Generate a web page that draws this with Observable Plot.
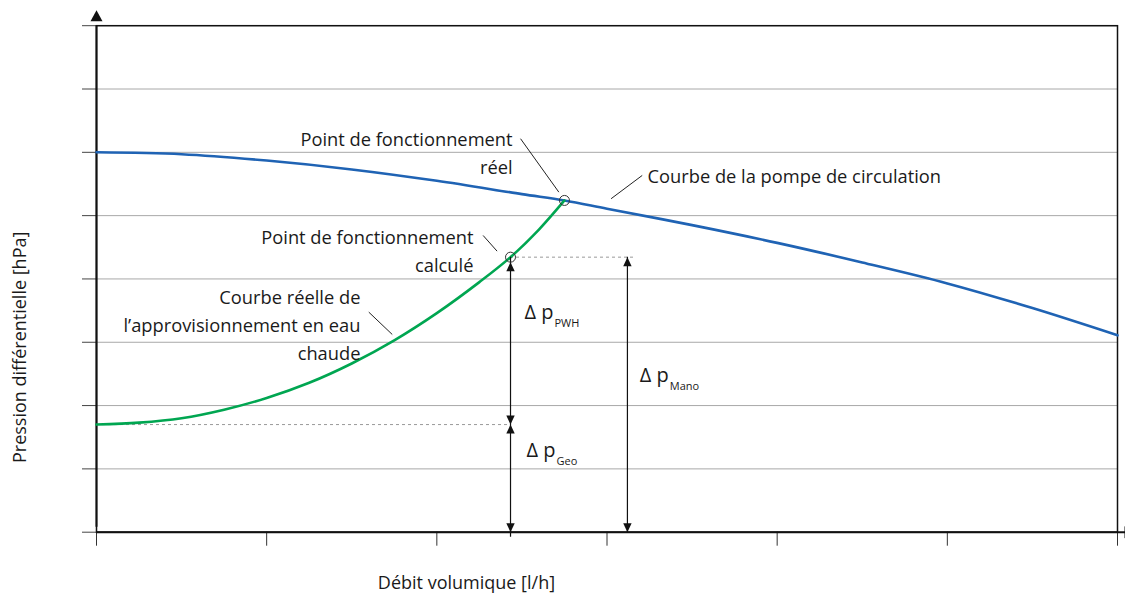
<!DOCTYPE html>
<html>
<head>
<meta charset="utf-8">
<script src="https://cdn.jsdelivr.net/npm/d3@7"></script>
<script src="https://cdn.jsdelivr.net/npm/@observablehq/plot@0.6"></script>
<style>
  html, body { margin: 0; padding: 0; background: #fff; }
</style>
</head>
<body>
<div id="chart"></div>
<script>
// Pump characteristic (flow, differential pressure)
const pumpFlow     = [0, 0.5, 1.0, 1.5, 2.0, 2.5, 2.75, 3.0, 3.5, 4.0, 4.5, 5.0, 5.5, 6.0];
const pumpPressure = [6.00, 5.97, 5.87, 5.73, 5.55, 5.34, 5.24, 5.11, 4.85, 4.57, 4.26, 3.93, 3.54, 3.11];

// Real hot-water supply curve
const pipeFlow     = [0, 0.25, 0.5, 0.75, 1.0, 1.25, 1.5, 1.75, 2.0, 2.25, 2.433, 2.6, 2.75];
const pipePressure = [1.70, 1.73, 1.80, 1.935, 2.12, 2.36, 2.665, 3.03, 3.46, 3.95, 4.344, 4.78, 5.24];

// Axis ticks (unlabelled)
const ticksX = [0, 1, 2, 3, 4, 5, 6];
const ticksY = [0, 1, 2, 3, 4, 5, 6, 7, 8];

// Operating points and pressure components
const geoPressure = 1.70;
const calcPoint = {flow: 2.433, pressure: 4.344};
const realPoint = {flow: 2.75, pressure: 5.24};
const manoFlow = 3.12;
const calcDashEnd = 3.16;

// Annotation texts (anchored at the baseline of their last line)
const labelsRight = [
  {x: 2.445, y: 5.651, text: "Point de fonctionnement\nréel"},
  {x: 2.215, y: 4.107, text: "Point de fonctionnement\ncalculé"},
  {x: 1.551, y: 2.712, text: "Courbe réelle de\nl’approvisionnement en eau\nchaude"}
];
const labelsLeft = [
  {x: 3.238, y: 5.509, text: "Courbe de la pompe de circulation"}
];
const leaders = [
  {x1: 2.492, y1: 6.215, x2: 2.717, y2: 5.371},
  {x1: 3.207, y1: 5.635, x2: 3.024, y2: 5.267},
  {x1: 2.272, y1: 4.687, x2: 2.354, y2: 4.439},
  {x1: 1.600, y1: 3.476, x2: 1.738, y2: 3.123}
];
const deltaLabels = [
  {x: 2.515, y: 3.371, sub: "PWH"},
  {x: 3.193, y: 2.370, sub: "Mano"},
  {x: 2.527, y: 1.185, sub: "Geo"}
];
const xTitle = "Débit volumique [l/h]";
const yTitle = "Pression différentielle [hPa]";

const pump = pumpFlow.map((f, i) => ({flow: f, pressure: pumpPressure[i]}));
const pipe = pipeFlow.map((f, i) => ({flow: f, pressure: pipePressure[i]}));

// Filled arrowheads with their tip at the symbol origin
const headUp    = {draw(c) { c.moveTo(0, 0); c.lineTo(-4.2, 9); c.lineTo(4.2, 9); c.closePath(); }};
const headDown  = {draw(c) { c.moveTo(0, 0); c.lineTo(-4.2, -9); c.lineTo(4.2, -9); c.closePath(); }};
const axisUp    = {draw(c) { c.moveTo(0, 0); c.lineTo(-6, 11); c.lineTo(6, 11); c.closePath(); }};
const axisRight = {draw(c) { c.moveTo(0, 0); c.lineTo(-11, -6); c.lineTo(-11, 6); c.closePath(); }};

const font = "'Open Sans', 'Noto Sans', sans-serif";
const ink = "#1a1a1a";

const chart = Plot.plot({
  width: 1125,
  height: 595,
  marginLeft: 96,
  marginRight: 8,
  marginTop: 25.2,
  marginBottom: 63.3,
  x: {domain: [0, 6], axis: null},
  y: {domain: [0, 8], axis: null},
  style: {fontFamily: font, fontSize: "18.3px", color: ink, background: "#fff", overflow: "visible"},
  marks: [
    Plot.gridY(ticksY, {stroke: "#a8a8a8", strokeOpacity: 1, strokeWidth: 1}),
    Plot.axisY(ticksY, {tickSize: 14, tickFormat: () => "", stroke: "#444", label: null}),
    Plot.axisX(ticksX, {tickSize: 14, tickFormat: () => "", stroke: "#333", label: null}),
    Plot.frame({stroke: "#111", strokeWidth: 1.5}),
    // axis lines with arrow tips
    Plot.ruleX([0], {y1: 0, y2: 8, stroke: "#111", strokeWidth: 2, insetTop: -5}),
    Plot.ruleY([0], {x1: 0, x2: 6, stroke: "#111", strokeWidth: 2, insetRight: -8}),
    Plot.dot([0], {x: 0, y: 8, dy: -15.5, symbol: axisUp, fill: "#111", stroke: null}),
    Plot.dot([0], {x: 6, y: 0, dx: 18, symbol: axisRight, fill: "#111", stroke: null}),
    // dashed reference levels
    Plot.ruleY([geoPressure], {x1: 0, x2: calcPoint.flow, stroke: "#999", strokeDasharray: "3,3", strokeWidth: 1}),
    Plot.ruleY([calcPoint.pressure], {x1: calcPoint.flow, x2: calcDashEnd, stroke: "#999", strokeDasharray: "3,3", strokeWidth: 1}),
    // curves
    Plot.line(pump, {x: "flow", y: "pressure", stroke: "#1f63b4", strokeWidth: 2.6, curve: "catmull-rom"}),
    Plot.line(pipe, {x: "flow", y: "pressure", stroke: "#00a651", strokeWidth: 2.6, curve: "catmull-rom"}),
    // pressure arrows
    Plot.ruleX([calcPoint.flow], {y1: 0, y2: calcPoint.pressure, insetTop: 5, stroke: "#111", strokeWidth: 1.2}),
    Plot.ruleX([manoFlow], {y1: 0, y2: calcPoint.pressure, stroke: "#111", strokeWidth: 1.2}),
    Plot.dot([calcPoint], {x: "flow", y: "pressure", dy: 5, symbol: headUp, fill: "#111", stroke: null}),
    Plot.dot([0], {x: calcPoint.flow, y: geoPressure, symbol: headDown, fill: "#111", stroke: null}),
    Plot.dot([0], {x: calcPoint.flow, y: geoPressure, symbol: headUp, fill: "#111", stroke: null}),
    Plot.dot([0], {x: calcPoint.flow, y: 0, symbol: headDown, fill: "#111", stroke: null}),
    Plot.dot([0], {x: manoFlow, y: calcPoint.pressure, symbol: headUp, fill: "#111", stroke: null}),
    Plot.dot([0], {x: manoFlow, y: 0, symbol: headDown, fill: "#111", stroke: null}),
    // operating points
    Plot.dot([calcPoint, realPoint], {x: "flow", y: "pressure", r: 5, fill: "none", stroke: "#333", strokeWidth: 1}),
    // annotations
    Plot.link(leaders, {x1: "x1", y1: "y1", x2: "x2", y2: "y2", stroke: "#222", strokeWidth: 1}),
    Plot.text(labelsRight, {x: "x", y: "y", text: "text", textAnchor: "end", lineAnchor: "bottom", lineHeight: 1.55, fill: ink}),
    Plot.text(labelsLeft, {x: "x", y: "y", text: "text", textAnchor: "start", lineAnchor: "bottom", fill: ink}),
    Plot.text(deltaLabels, {x: "x", y: "y", text: () => "Δ p", textAnchor: "start", lineAnchor: "bottom", fontSize: 20, fill: ink}),
    Plot.text(deltaLabels, {x: "x", y: "y", text: "sub", dx: 30, dy: 8, textAnchor: "start", lineAnchor: "bottom", fontSize: 11, fill: ink}),
    // axis titles
    Plot.text([yTitle], {y: () => 2.92, text: d => d, frameAnchor: "left", dx: -71, rotate: -90, textAnchor: "middle", lineAnchor: "bottom", fontSize: 18, fill: ink}),
    Plot.text([xTitle], {x: () => 2.174, text: d => d, frameAnchor: "bottom", dy: 56.3, textAnchor: "middle", lineAnchor: "bottom", fontSize: 18, fill: ink})
  ]
});
document.getElementById("chart").appendChild(chart);
</script>
</body>
</html>
